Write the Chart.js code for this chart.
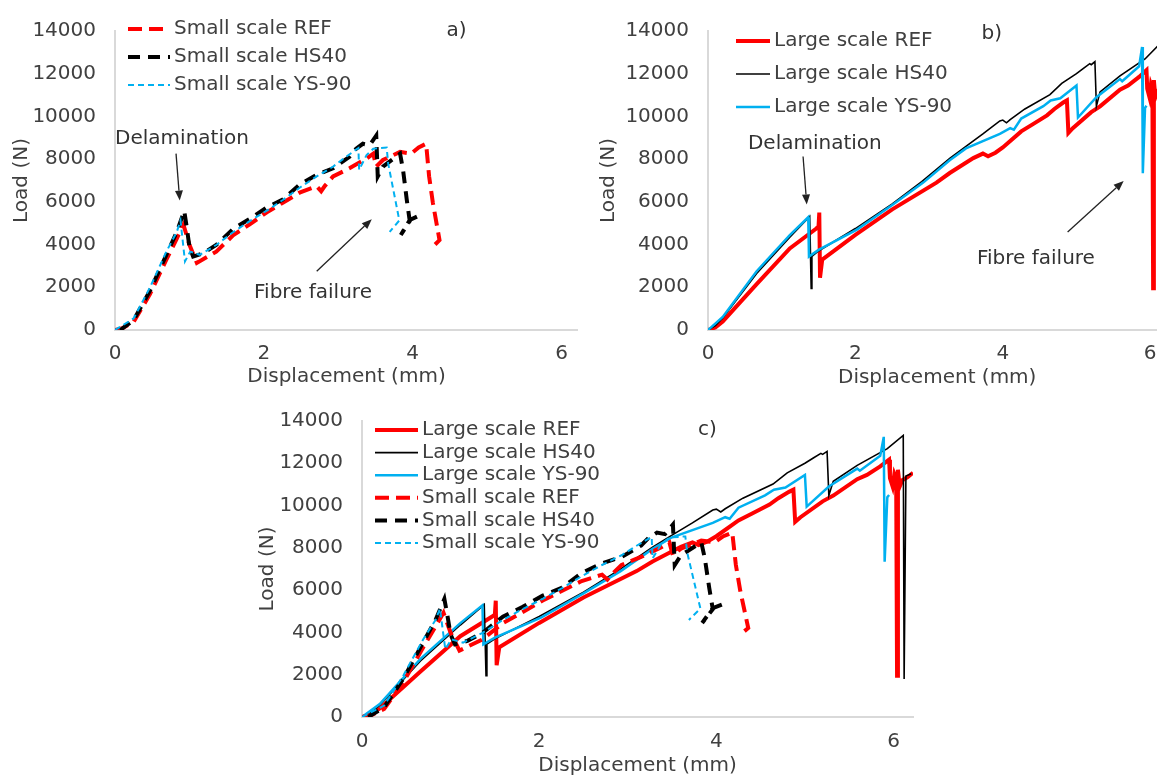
<!DOCTYPE html>
<html>
<head>
<meta charset="utf-8">
<script src="https://cdn.jsdelivr.net/npm/chart.js@4.4.1/dist/chart.umd.min.js"></script>
<style>
  html, body { margin: 0; padding: 0; background: #fff; overflow: hidden; width: 1157px; height: 778px; }
  .panel { position: absolute; }
</style>
</head>
<body>
<div class="panel" style="left:0px;top:0px;width:580px;height:390px"><canvas id="chartA"></canvas></div>
<div class="panel" style="left:580px;top:0px;width:600px;height:390px"><canvas id="chartB"></canvas></div>
<div class="panel" style="left:250px;top:390px;width:680px;height:388px"><canvas id="chartC"></canvas></div>
<script>
// ---- data (displacement mm, load N) ----
const xTickValues = [0, 2, 4, 6];
const yTickValues = [0, 2000, 4000, 6000, 8000, 10000, 12000, 14000];
const xMax = 6.22;
const yMax = 14000;

const smallREF = [[0,0],[0.1,80],[0.25,380],[0.47,1680],[0.69,3290],[0.83,4280],[0.92,4930],[1.0,3990],[1.1,3140],
  [1.36,3670],[1.59,4440],[1.81,4950],[2.04,5510],[2.26,5970],[2.48,6430],[2.71,6730],[2.77,6500],[2.82,6750],
  [2.93,7190],[3.15,7570],[3.38,8030],[3.47,8260],[3.51,7650],[3.6,7960],[3.83,8340],[3.98,8260],[4.08,8550],
  [4.18,8720],[4.22,7200],[4.27,5970],[4.36,4210],[4.27,3900]];
const smallHS40 = [[0.07,0],[0.25,460],[0.47,1840],[0.69,3520],[0.83,4590],[0.93,5580],[0.96,4900],[1.0,3900],
  [1.05,3440],[1.19,3600],[1.36,3980],[1.59,4740],[1.81,5200],[2.04,5740],[2.26,6120],[2.48,6810],[2.71,7270],
  [2.93,7570],[3.15,8110],[3.24,8490],[3.33,8720],[3.42,8650],[3.51,9100],[3.53,7190],[3.6,7650],[3.83,8260],
  [3.87,7500],[3.92,6100],[3.96,5100],[3.84,4450],[3.96,5150],[4.13,5430]];
const smallYS90 = [[0,0],[0.25,540],[0.47,1990],[0.69,3670],[0.83,4590],[0.88,5130],[0.94,3210],[1.01,3670],
  [1.14,3520],[1.36,3980],[1.59,4590],[1.81,5100],[2.04,5590],[2.26,6100],[2.48,6660],[2.71,7190],[2.93,7650],
  [3.1,8100],[3.27,8520],[3.28,7500],[3.38,8190],[3.47,8490],[3.65,8540],[3.67,7800],[3.82,5130],[3.69,4590]];

const largeREF = [[0,0],[0.1,120],[0.2,400],[0.66,2150],[1.11,3820],[1.47,4750],[1.5,4850],[1.51,5500],[1.52,2450],
  [1.55,3300],[2.0,4450],[2.5,5650],[3.1,6900],[3.28,7350],[3.6,8050],[3.73,8260],[3.8,8130],[3.9,8300],[4.0,8550],
  [4.25,9300],[4.41,9640],[4.6,10050],[4.7,10350],[4.82,10650],[4.87,10750],[4.89,9230],[4.95,9450],[5.2,10200],
  [5.32,10470],[5.59,11250],[5.7,11450],[5.85,11850],[5.95,12170],[5.96,11300],[5.99,10900],[6.01,11500],
  [6.03,11300],[6.04,1950],[6.05,11700],[6.07,10900],[6.1,11200],[6.16,11350],[6.22,11550]];
const largeHS40 = [[0,0],[0.1,200],[0.2,560],[0.66,2650],[1.11,4350],[1.38,5320],[1.4,1950],[1.41,3450],[1.5,3700],
  [2.0,4750],[2.5,5900],[2.9,6950],[3.28,8030],[3.5,8600],[3.73,9180],[3.96,9790],[4.0,9830],[4.05,9700],[4.1,9850],
  [4.3,10350],[4.64,11020],[4.8,11550],[5.0,12000],[5.09,12240],[5.18,12470],[5.2,12420],[5.25,12560],[5.27,10480],
  [5.32,11150],[5.59,11900],[5.93,12690],[6.11,13320],[6.12,1800],[6.14,11400],[6.2,11500]];
const largeYS90 = [[0,0],[0.03,90],[0.2,610],[0.66,2750],[1.11,4440],[1.36,5280],[1.37,3440],[1.5,3750],[2.02,4700],
  [2.5,5850],[2.92,6900],[3.28,7950],[3.5,8500],[3.96,9180],[4.1,9450],[4.15,9380],[4.25,9900],[4.55,10480],
  [4.65,10750],[4.78,10850],[5.0,11450],[5.02,9950],[5.27,10900],[5.59,11750],[5.62,11650],[5.85,12350],
  [5.89,13250],[5.9,7340],[5.93,10400],[5.95,10500]];

// ---- styles ----
const FONT = '"DejaVu Sans", Verdana, sans-serif';
const FONT_SIZE = 20;
const TEXT = '#404040';
const AXIS = '#d9d9d9';
const RED = '#ff0000', BLACK = '#000000', BLUE = '#00b0f0';

function line(label, pts, color, width, dash) {
  return {
    label: label,
    data: pts.map(p => ({ x: p[0], y: p[1] })),
    borderColor: color,
    backgroundColor: color,
    borderWidth: width,
    borderDash: dash || [],
    showLine: true,
    pointRadius: 0,
    tension: 0,
    fill: false
  };
}

const sREF  = () => line('Small scale REF', smallREF, RED, 4, [14, 7]);
const sHS40 = () => line('Small scale HS40', smallHS40, BLACK, 4, [12, 8]);
const sYS90 = () => line('Small scale YS-90', smallYS90, BLUE, 2, [6, 4]);
const lREF  = () => line('Large scale REF', largeREF, RED, 4);
const lHS40 = () => line('Large scale HS40', largeHS40, BLACK, 1.6);
const lYS90 = () => line('Large scale YS-90', largeYS90, BLUE, 2.5);

// legend drawn inside the plot, one row per series
const sideLegend = {
  id: 'sideLegend',
  afterDraw(chart, args, o) {
    const { ctx, chartArea } = chart;
    ctx.save();
    ctx.font = FONT_SIZE + 'px ' + FONT;
    ctx.textBaseline = 'middle';
    ctx.textAlign = 'left';
    chart.data.datasets.forEach((ds, i) => {
      const y = chartArea.top + o.top + i * o.step;
      const x0 = chartArea.left + o.left;
      ctx.strokeStyle = ds.borderColor;
      ctx.lineWidth = ds.borderWidth;
      ctx.setLineDash(ds.borderDash || []);
      ctx.beginPath();
      ctx.moveTo(x0, y);
      ctx.lineTo(x0 + o.len, y);
      ctx.stroke();
      ctx.setLineDash([]);
      ctx.fillStyle = TEXT;
      ctx.fillText(ds.label, x0 + o.len + 4, y);
    });
    ctx.restore();
  }
};

// panel letters, callouts and arrows, placed in data units
const notes = {
  id: 'notes',
  afterDraw(chart, args, o) {
    const { ctx, scales } = chart;
    const px = v => scales.x.getPixelForValue(v);
    const py = v => scales.y.getPixelForValue(v);
    ctx.save();
    ctx.font = FONT_SIZE + 'px ' + FONT;
    ctx.fillStyle = '#333';
    ctx.textAlign = 'center';
    ctx.textBaseline = 'middle';
    (o.texts || []).forEach(t => ctx.fillText(t.text, px(t.x), py(t.y)));
    ctx.strokeStyle = '#222';
    ctx.fillStyle = '#222';
    ctx.lineWidth = 1.3;
    (o.arrows || []).forEach(a => {
      const x1 = px(a.from[0]), y1 = py(a.from[1]);
      const x2 = px(a.to[0]), y2 = py(a.to[1]);
      const ang = Math.atan2(y2 - y1, x2 - x1);
      const hl = 10, hw = 4;
      const bx = x2 - hl * Math.cos(ang), by = y2 - hl * Math.sin(ang);
      ctx.beginPath();
      ctx.moveTo(x1, y1);
      ctx.lineTo(bx, by);
      ctx.stroke();
      ctx.beginPath();
      ctx.moveTo(x2, y2);
      ctx.lineTo(bx + hw * Math.sin(ang), by - hw * Math.cos(ang));
      ctx.lineTo(bx - hw * Math.sin(ang), by + hw * Math.cos(ang));
      ctx.closePath();
      ctx.fill();
    });
    ctx.restore();
  }
};

function makeChart(id, datasets, cfg) {
  datasets.forEach((d, i) => { d.order = -i; });
  const font = { family: FONT, size: FONT_SIZE };
  return new Chart(document.getElementById(id), {
    type: 'scatter',
    data: { datasets: datasets },
    options: {
      responsive: true,
      maintainAspectRatio: false,
      animation: false,
      events: [],
      layout: { padding: { top: cfg.top, right: cfg.right, left: 0, bottom: 0 } },
      plugins: {
        legend: { display: false },
        tooltip: { enabled: false },
        sideLegend: cfg.legend,
        notes: cfg.notes
      },
      scales: {
        x: {
          type: 'linear', min: 0, max: xMax,
          afterBuildTicks: s => { s.ticks = xTickValues.map(v => ({ value: v })); },
          afterFit: s => { s.height = cfg.xHeight; },
          grid: { display: false, drawTicks: false },
          border: { display: true, color: AXIS, width: 2 },
          ticks: { font: font, color: TEXT, padding: cfg.xPad, autoSkip: false, maxRotation: 0, callback: v => String(v) },
          title: { display: true, text: 'Displacement (mm)', font: font, color: TEXT, padding: { top: 0, bottom: cfg.xTitlePad } }
        },
        y: {
          type: 'linear', min: 0, max: yMax,
          afterBuildTicks: s => { s.ticks = yTickValues.map(v => ({ value: v })); },
          afterFit: s => { s.width = cfg.yWidth; },
          grid: { display: false, drawTicks: false },
          border: { display: true, color: AXIS, width: 2 },
          ticks: { font: font, color: TEXT, padding: 19, autoSkip: false, callback: v => String(v) },
          title: { display: true, text: 'Load (N)', font: font, color: TEXT, padding: { top: cfg.yTitlePad, bottom: 0 } }
        }
      }
    },
    plugins: [sideLegend, notes]
  });
}

makeChart('chartA', [sREF(), sHS40(), sYS90()], {
  top: 25, right: 1.6, xHeight: 60, yWidth: 115, xPad: 12, xTitlePad: 1, yTitlePad: 10,
  legend: { top: -2, step: 28, left: 13, len: 42 },
  notes: {
    texts: [
      { text: 'a)', x: 4.59, y: 14000 },
      { text: 'Delamination', x: 0.9, y: 8950 },
      { text: 'Fibre failure', x: 2.66, y: 1744 }
    ],
    arrows: [
      { from: [0.82, 8260], to: [0.87, 6060] },
      { from: [2.71, 2754], to: [3.45, 5187] }
    ]
  }
});

makeChart('chartB', [lREF(), lHS40(), lYS90()], {
  top: 25, right: 13.6, xHeight: 60, yWidth: 128, xPad: 12, xTitlePad: 0, yTitlePad: 17,
  legend: { top: 10, step: 33, left: 28, len: 34 },
  notes: {
    texts: [
      { text: 'b)', x: 3.85, y: 13860 },
      { text: 'Delamination', x: 1.45, y: 8720 },
      { text: 'Fibre failure', x: 4.45, y: 3350 }
    ],
    arrows: [
      { from: [1.29, 8125], to: [1.34, 5875] },
      { from: [4.88, 4590], to: [5.64, 6977] }
    ]
  }
});

makeChart('chartC', [lREF(), lHS40(), lYS90(), sREF(), sHS40(), sYS90()], {
  top: 23, right: 17, xHeight: 61, yWidth: 112, xPad: 13, xTitlePad: 0, yTitlePad: 6,
  legend: { top: 9, step: 22.6, left: 13, len: 43 },
  notes: {
    texts: [ { text: 'c)', x: 3.9, y: 13585 } ],
    arrows: []
  }
});
</script>
</body>
</html>
